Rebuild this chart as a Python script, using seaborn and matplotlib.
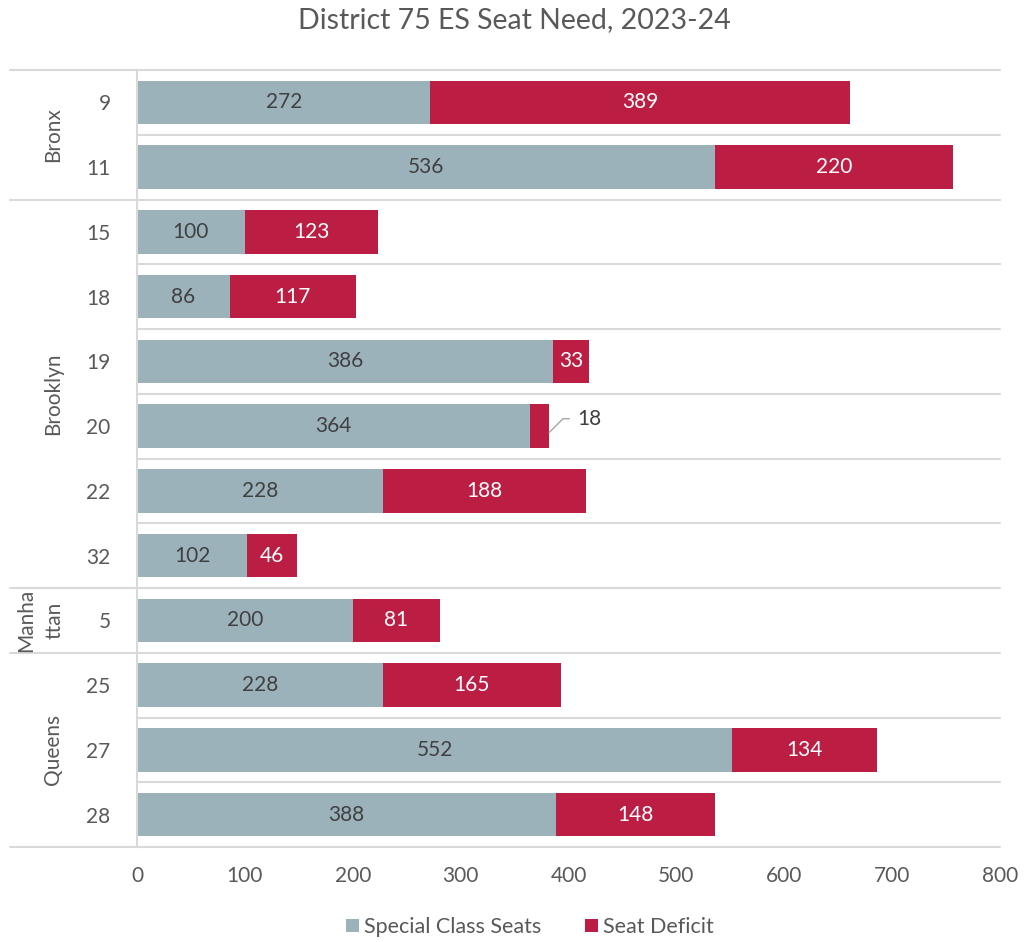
import numpy as np
import pandas as pd
import matplotlib.pyplot as plt
import matplotlib.transforms as mtransforms
import seaborn as sns

# values
districts = ["9", "11", "15", "18", "19", "20", "22", "32", "5", "25", "27", "28"]
boroughs = ["Bronx", "Bronx", "Brooklyn", "Brooklyn", "Brooklyn", "Brooklyn",
            "Brooklyn", "Brooklyn", "Manhattan", "Queens", "Queens", "Queens"]
special_seats = [272, 536, 100, 86, 386, 364, 228, 102, 200, 228, 552, 388]
seat_deficit = [389, 220, 123, 117, 33, 18, 188, 46, 81, 165, 134, 148]

gray_blue = "#9cb2bb"
crimson = "#bb1e42"
txt = "#404040"
fs = 15

df = pd.DataFrame({"district": districts, "borough": boroughs,
                   "special": special_seats, "deficit": seat_deficit})

sns.set_theme(style="white")
plt.rcParams["font.family"] = ["Lato", "DejaVu Sans"]

fig = plt.figure(figsize=(10.29, 9.42), dpi=100)
ax = fig.add_axes([137 / 1029, 1 - 847 / 942, 863 / 1029, 777 / 942])

sns.barplot(data=df, y="district", x="special", order=districts, color=gray_blue,
            saturation=1, width=0.67, ax=ax, label="Special Class Seats",
            linewidth=0, edgecolor="none")
sns.barplot(data=df, y="district", x="deficit", order=districts, color=crimson,
            saturation=1, width=0.67, ax=ax, label="Seat Deficit",
            left=df["special"].values, linewidth=0, edgecolor="none")
if ax.get_legend() is not None:
    ax.get_legend().remove()

# data labels
ax.bar_label(ax.containers[0], labels=[str(v) for v in special_seats],
             label_type="center", color=txt, fontsize=fs)
ax.bar_label(ax.containers[1],
             labels=[str(v) if v >= 30 else "" for v in seat_deficit],
             label_type="center", color="white", fontsize=fs)
for i, v in enumerate(seat_deficit):
    if v < 30:
        ax.annotate(str(v), xy=(special_seats[i] + v, i + 0.1), xytext=(20, 10),
                    textcoords="offset points", ha="left", va="center",
                    color=txt, fontsize=fs,
                    arrowprops=dict(arrowstyle="-", color="#a6a6a6", lw=1,
                                    connectionstyle="angle,angleA=0,angleB=45,rad=0",
                                    shrinkA=3, shrinkB=0))

ax.set_xlim(0, 800)
ax.set_ylim(11.5, -0.5)
ax.set_xticks(np.arange(0, 801, 100))
ax.set_xlabel("")
ax.set_ylabel("")
ax.tick_params(axis="x", length=0, pad=14, labelsize=fs, labelcolor="#595959")
ax.tick_params(axis="y", length=0, pad=19, labelsize=fs, labelcolor="#595959")
for s in ["top", "right", "bottom"]:
    ax.spines[s].set_visible(False)
ax.spines["left"].set_color("#d9d9d9")
ax.spines["left"].set_linewidth(1.5)

# row and group separators
trans = mtransforms.blended_transform_factory(ax.transAxes, ax.transData)
group_edges = [-0.5]
for i in range(1, len(boroughs)):
    if boroughs[i] != boroughs[i - 1]:
        group_edges.append(i - 0.5)
group_edges.append(len(boroughs) - 0.5)
for i in range(len(districts) + 1):
    yb = i - 0.5
    x0 = -127 / 863 if yb in group_edges else 0
    ax.plot([x0, 1], [yb, yb], transform=trans, color="#d9d9d9", lw=1.5,
            clip_on=False, zorder=0)

# borough labels
names = {"Manhattan": "Manha\nttan"}
for b in dict.fromkeys(boroughs):
    idx = [i for i, x in enumerate(boroughs) if x == b]
    xb = -84 / 863 if b != "Manhattan" else -97 / 863
    ax.text(xb, np.mean(idx), names.get(b, b), transform=trans,
            rotation=90, ha="center", va="center", fontsize=fs, color="#595959",
            linespacing=1.5)

fig.text(0.5, 1 - 20 / 942, "District 75 ES Seat Need, 2023-24", ha="center",
         va="center", fontsize=20.5, color="#595959")

handles, labels = ax.get_legend_handles_labels()
fig.legend(handles, labels, loc="center", bbox_to_anchor=(0.515, 1 - 927 / 942),
           ncol=2, frameon=False, fontsize=15.5, handlelength=0.6,
           handleheight=0.6, handletextpad=0.25, columnspacing=2.0,
           labelcolor="#595959")

fig.savefig("out.png", dpi=100)
